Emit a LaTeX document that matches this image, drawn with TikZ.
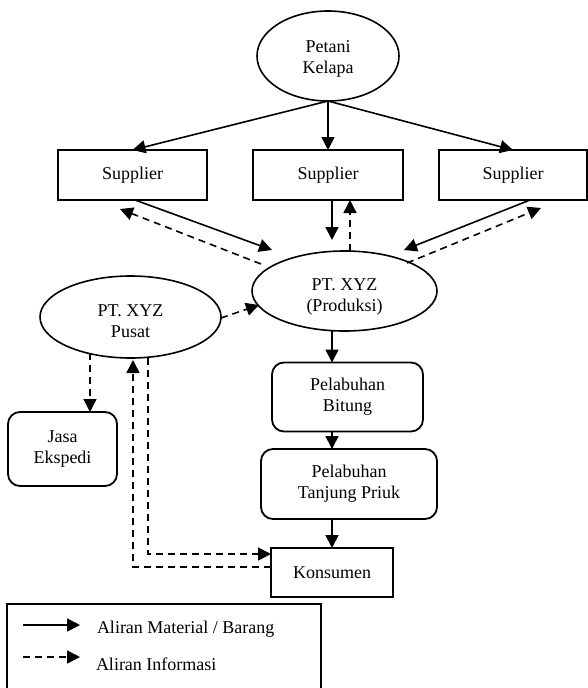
\documentclass[tikz,border=0pt]{standalone}
\usepackage{fontspec}
\setmainfont{Liberation Serif}
\usetikzlibrary{shapes.geometric,arrows.meta,calc}
\begin{document}
\begin{tikzpicture}[x=1pt,y=-1pt,
  every node/.style={font=\fontsize{18}{21}\selectfont, align=center, inner sep=0pt, outer sep=0pt},
  every label/.style={font=\fontsize{18}{21}\selectfont, align=center, inner sep=0pt},
  ell/.style={draw, ellipse, line width=1.6pt},
  box/.style={draw, rectangle, line width=1.8pt},
  rbox/.style={draw, rectangle, rounded corners=12pt, line width=1.8pt},
  mat/.style={line width=1.6pt, -{Triangle[length=13pt,width=13pt]}},
  info/.style={mat, dash pattern=on 7pt off 5pt},
  lbl/.style={anchor=base west}
]
\useasboundingbox (0,0) rectangle (588,688);

% nodes
\node[ell, minimum width=142pt, minimum height=90pt,
      label={[name=petanit, yshift=-3pt]center:Petani\\Kelapa}] (petani) at (328,56) {};
\node[box, minimum width=149pt, minimum height=50pt] (sup1) at (132.5,175) {Supplier};
\node[box, minimum width=150pt, minimum height=50pt] (sup2) at (328,175) {Supplier};
\node[box, minimum width=148pt, minimum height=50pt] (sup3) at (513,175) {Supplier};
\node[ell, minimum width=185pt, minimum height=80pt,
      label={[name=prodt, yshift=-6pt]center:PT. XYZ\\(Produksi)}] (prod) at (344.5,291) {};
\node[ell, minimum width=181pt, minimum height=82pt,
      label={[name=pusatt, yshift=-4pt]center:PT. XYZ\\Pusat}] (pusat) at (130.5,317) {};
\node[rbox, minimum width=109pt, minimum height=74pt] (jasa) at (62.5,449) {Jasa\\Ekspedi};
\node[rbox, minimum width=151pt, minimum height=69pt] (bit) at (347.5,397) {Pelabuhan\\Bitung};
\node[rbox, minimum width=176pt, minimum height=70pt] (tanj) at (349,484) {Pelabuhan\\Tanjung Priuk};
\node[box, minimum width=122pt, minimum height=49pt] (kons) at (332,572.5) {Konsumen};

% Petani -> suppliers
\draw[mat] (petani.south) -- (sup1.north);
\draw[mat] (petani.south) -- (sup2.north);
\draw[mat] (petani.south) -- (sup3.north);

% suppliers <-> produksi
\draw[mat] ($(sup1.south)+(2.5,0)$) -- ($(prod.west)+(20,-41)$);
\draw[info] ($(prod.west)+(9,-27)$) -- ($(sup1.south)+(-12.5,9)$);
\draw[mat] ($(sup2.south)+(4,0)$) -- ($(sup2.south)+(4,40)$);
\draw[info] ($(prod.north)+(5.5,0)$) -- ($(sup2.south)+(22,0)$);
\draw[mat] ($(sup3.south)+(17,0)$) -- ($(prod.east)+(-33,-41)$);
\draw[info] ($(prod.east)+(-30,-28)$) -- ($(sup3.south)+(28,8)$);

% pusat
\draw[info] ($(pusat.east)+(0,1)$) -- ($(prod.west)+(7,14)$);
\draw[info] ($(pusat.south)+(-40.5,-5)$) -- ($(jasa.north)+(27.5,0)$);
\draw[info] ($(kons.west)+(0,-5.5)$) -| ($(pusat.south)+(2.5,2)$);
\draw[info] ($(pusat.south)+(17.5,0)$) |- ($(kons.west)+(0,-18.5)$);

% material chain
\draw[mat] (prod.south -| kons.north) -- (bit.north -| kons.north);
\draw[mat] (bit.south -| kons.north) -- (tanj.north -| kons.north);
\draw[mat] (tanj.south -| kons.north) -- (kons.north);

% legend
\node[draw, line width=1.8pt, anchor=north west, minimum width=314pt, minimum height=120pt] (legend) at (7,604) {};
\coordinate (la1) at (23,625);
\coordinate (lb1) at (80,625);
\coordinate (la2) at (23,657);
\coordinate (lb2) at (80,657);
\draw[mat] (la1) -- (lb1);
\draw[info] (la2) -- (lb2);
\node[lbl] (t1) at (97,633) {Aliran Material / Barang};
\node[lbl] (t2) at (96,670) {Aliran Informasi};
\end{tikzpicture}
\end{document}
